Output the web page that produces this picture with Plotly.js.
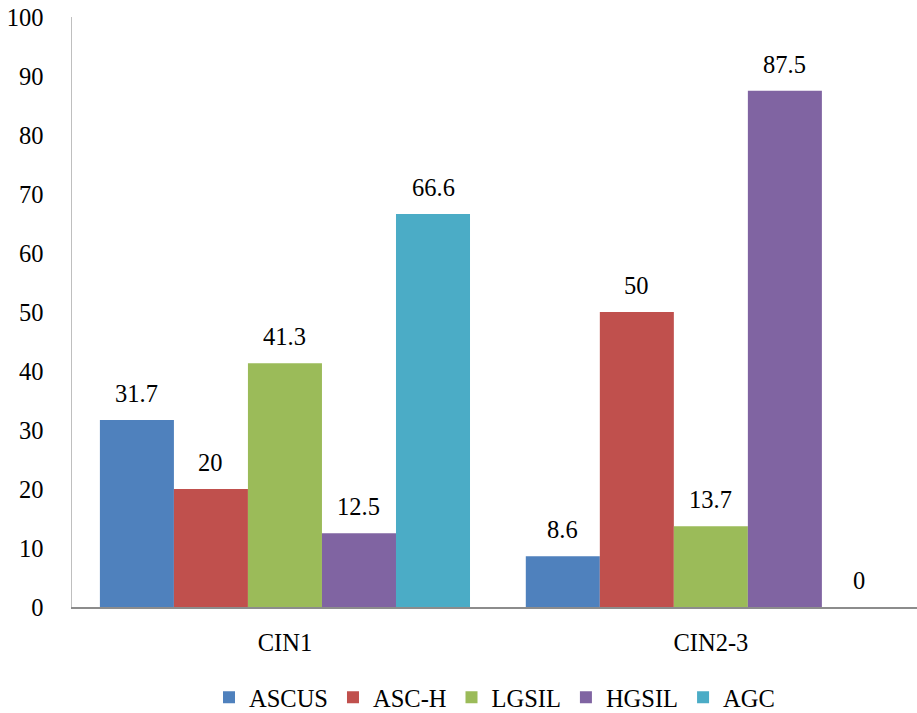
<!DOCTYPE html>
<html><head><meta charset="utf-8">
<script src="https://cdn.plot.ly/plotly-3.0.1.min.js"></script>
<style>html,body{margin:0;padding:0;background:#fff}#chart{width:917px;height:713px}</style>
</head><body><div id="chart"></div>
<script>
var categories = ["CIN1", "CIN2-3"];
var seriesNames = ["ASCUS", "ASC-H", "LGSIL", "HGSIL", "AGC"];
var ascus = [31.7, 8.6];
var ascH = [20, 50];
var lgsil = [41.3, 13.7];
var hgsil = [12.5, 87.5];
var agc = [66.6, 0];
var colors = ["#4F81BD", "#C0504D", "#9BBB59", "#8064A2", "#4BACC6"];
var yTicks = [0,10,20,30,40,50,60,70,80,90,100];

var seriesValues = [ascus, ascH, lgsil, hgsil, agc];
var font = '"Liberation Serif", "Times New Roman", serif';
var fs = 24.5;
var bargap = 0.131;
var traces = seriesValues.map(function(v, i){
  return {type:'bar', name: seriesNames[i], x: categories, y: v,
    marker:{color: colors[i]}, hoverinfo:'none'};
});
var nS = seriesValues.length;
var w = (1 - bargap) / nS;
var annotations = [];
seriesValues.forEach(function(v, i){
  v.forEach(function(val, j){
    annotations.push({x: j + (i - (nS-1)/2) * w, y: val, xref:'x', yref:'y',
      text: String(val), showarrow:false, yanchor:'bottom', yshift: 11,
      font:{family:font, size:fs, color:'#000'}});
  });
});
var layout = {
  width:917, height:713,
  margin:{l:72, r:0, t:17, b:106, autoexpand:false},
  paper_bgcolor:'#fff', plot_bgcolor:'#fff',
  barmode:'group', bargap: bargap, bargroupgap:0,
  font:{family:font, size:fs, color:'#000'},
  xaxis:{type:'category', range:[-0.5, 1.484], showline:true, linecolor:'#8C8C8C', linewidth:1.5,
    showgrid:false, zeroline:false, ticks:'', ticklabelstandoff:13, automargin:false,
    tickfont:{family:font, size:fs, color:'#000'}},
  yaxis:{range:[0,100], tickvals:yTicks, showline:true, linecolor:'#BFBFBF', linewidth:1.5,
    showgrid:false, zeroline:false, ticks:'', ticklabelstandoff:22, automargin:false,
    tickfont:{family:font, size:fs, color:'#000'}},
  showlegend:true,
  legend:{orientation:'h', x:0.5, xanchor:'center', y:-0.153, yanchor:'middle',
    font:{family:font, size:fs, color:'#000'}, itemwidth:30, traceorder:'normal'},
  annotations: annotations
};
Plotly.newPlot('chart', traces, layout, {displayModeBar:false, staticPlot:true});
</script></body></html>
